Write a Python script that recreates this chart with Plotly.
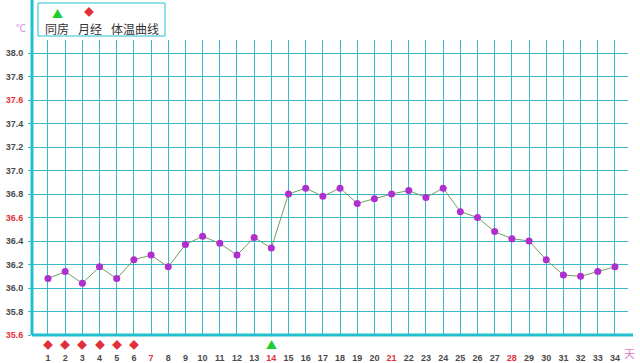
import plotly.graph_objects as go

days = list(range(1, 35))
temps = [36.08, 36.14, 36.04, 36.18, 36.08, 36.24, 36.28, 36.18, 36.37, 36.44,
         36.38, 36.28, 36.43, 36.34, 36.80, 36.85, 36.78, 36.85, 36.72, 36.76,
         36.80, 36.83, 36.77, 36.85, 36.65, 36.60, 36.48, 36.42, 36.40, 36.24,
         36.11, 36.10, 36.14, 36.18]
period_days = [1, 2, 3, 4, 5, 6]
intercourse_days = [14]
red_x_ticks = [7, 14, 21, 28]
y_ticks = [35.6, 35.8, 36.0, 36.2, 36.4, 36.6, 36.8, 37.0, 37.2, 37.4, 37.6, 37.8, 38.0]
red_y_ticks = [35.6, 36.6, 37.6]
legend_labels = ["同房", "月经", "体温曲线"]

W, H = 640, 363
L, R, T, B = 32, 12, 40, 28
PW, PH = W - L - R, H - T - B
def px(x):
    return (x - L) / PW
def py(y):
    return (H - B - y) / PH

GRID = "#3ab8c8"
AXIS = "#22bfd0"
RED = "#e0303c"
GREEN = "#22cc33"
TXT = "#4a4a4a"

fig = go.Figure()
fig.add_trace(go.Scatter(
    x=days, y=temps, mode="lines+markers",
    line=dict(color="#6f9e63", width=1),
    marker=dict(color="#b02ed0", size=7),
    showlegend=False, hoverinfo="skip"))

xt = [f"<span style='color:{RED}'>{d}</span>" if d in red_x_ticks else str(d) for d in days]
yt = [f"<span style='color:{RED}'>{v:.1f}</span>" if round(v, 1) in red_y_ticks else f"{v:.1f}" for v in y_ticks]

fig.update_xaxes(range=[0.07, 34.76], tickvals=days, ticktext=xt, automargin=False,
                 showgrid=True, gridcolor=GRID, gridwidth=1.2, zeroline=False,
                 showline=False, ticks="outside", ticklen=12, tickcolor="rgba(0,0,0,0)",
                 ticklabelstandoff=2,
                 tickfont=dict(size=9, color=TXT, family="Arial", weight="bold"))
fig.update_yaxes(range=[35.6, 38.111], tickvals=y_ticks, ticktext=yt, automargin=False,
                 showgrid=True, gridcolor=GRID, gridwidth=1.2, zeroline=False,
                 showline=False, ticks="outside", ticklen=3, tickcolor=GRID,
                 ticklabelstandoff=3,
                 tickfont=dict(size=9, color=TXT, family="Arial", weight="bold"))

shapes = [
    dict(type="line", xref="paper", yref="paper", x0=0, x1=0, y0=0, y1=py(0),
         line=dict(color=AXIS, width=3)),
    dict(type="line", xref="paper", yref="paper", x0=0, x1=px(633), y0=0, y1=0,
         line=dict(color=AXIS, width=3)),
    dict(type="rect", xref="paper", yref="paper", x0=px(38), x1=px(165),
         y0=py(36), y1=py(3), line=dict(color=AXIS, width=1), fillcolor="white"),
]
annotations = [
    dict(text="▲", x=px(57), y=py(13), font=dict(size=11, color=GREEN)),
    dict(text="◆", x=px(89), y=py(12), font=dict(size=10, color=RED)),
    dict(text=legend_labels[0], x=px(56.5), y=py(29), font=dict(size=12, color="#333")),
    dict(text=legend_labels[1], x=px(89.5), y=py(29), font=dict(size=12, color="#333")),
    dict(text=legend_labels[2], x=px(135), y=py(29), font=dict(size=12, color="#333")),
    dict(text="℃", x=px(21), y=py(28), font=dict(size=10, color="#d88ad8")),
    dict(text="天", x=px(629), y=py(353), font=dict(size=11, color="#e07ac0")),
]
for a in annotations:
    a.update(xref="paper", yref="paper")
for d in period_days:
    annotations.append(dict(text="◆", x=d, xref="x", y=py(344), yref="paper",
                            font=dict(size=10, color=RED)))
for d in intercourse_days:
    annotations.append(dict(text="▲", x=d, xref="x", y=py(344), yref="paper",
                            font=dict(size=11, color=GREEN)))
for a in annotations:
    a.update(showarrow=False, xanchor="center", yanchor="middle")
    a["font"]["family"] = "Noto Sans CJK SC"

fig.update_layout(width=W, height=H, autosize=False,
                  margin=dict(l=L, r=R, t=T, b=B, autoexpand=False),
                  plot_bgcolor="white", paper_bgcolor="white",
                  shapes=shapes, annotations=annotations)
fig.write_html("out.html")
